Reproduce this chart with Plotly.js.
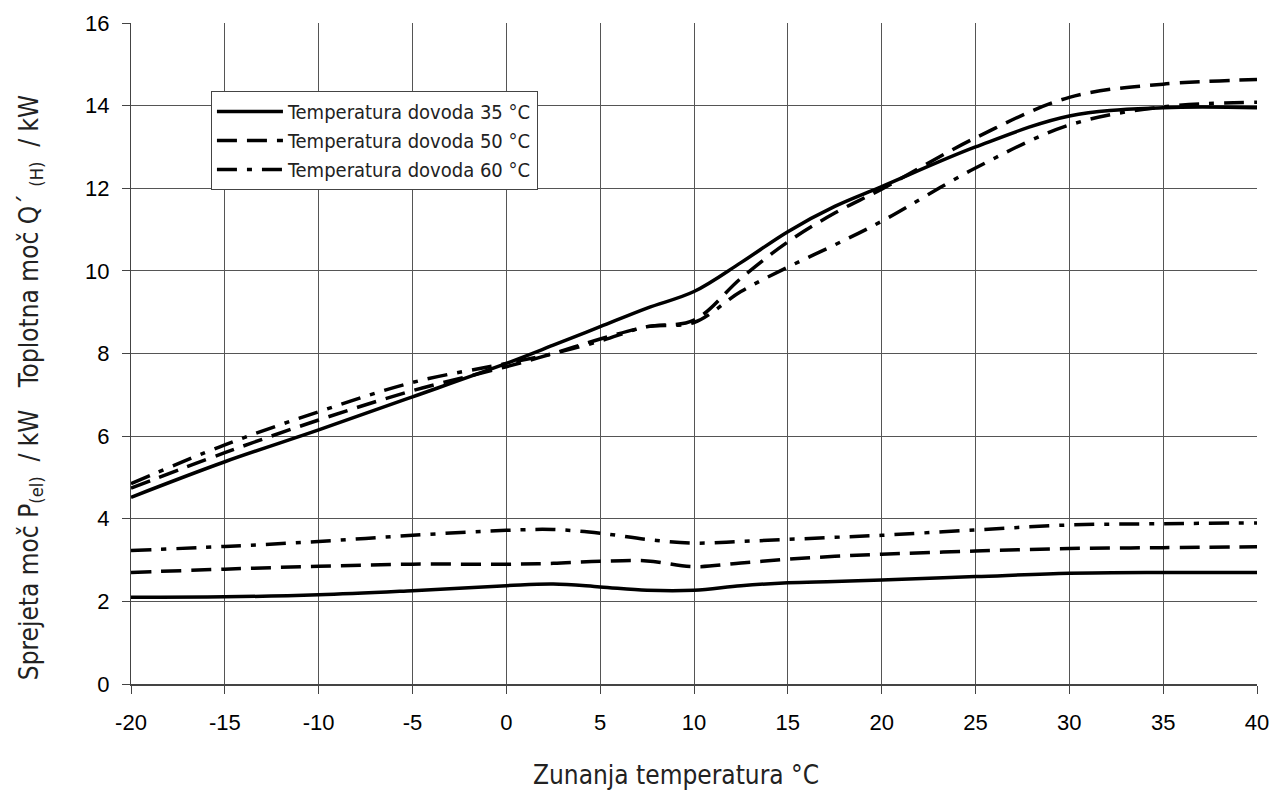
<!DOCTYPE html>
<html>
<head>
<meta charset="utf-8">
<script src="https://cdn.plot.ly/plotly-3.0.1.min.js"></script>
<style>html,body{margin:0;padding:0;background:#fff;}#chart{width:1275px;height:795px;}</style>
</head>
<body>
<div id="chart"></div>
<script>
// Outdoor temperature (°C)
const temps = [-20, -15, -10, -5, 0, 2.5, 5, 7.5, 10, 12.5, 15, 17.5, 20, 25, 30, 35, 40];

// Heating capacity Q(H) / kW
const heat35 = [4.52, 5.38, 6.15, 6.95, 7.76, 8.2, 8.65, 9.1, 9.5, 10.2, 10.95, 11.56, 12.04, 13.0, 13.75, 13.95, 13.95];
const heat50 = [4.74, 5.6, 6.39, 7.1, 7.68, 8.0, 8.35, 8.65, 8.81, 9.82, 10.7, 11.4, 11.98, 13.22, 14.2, 14.52, 14.63];
const heat60 = [4.85, 5.79, 6.59, 7.3, 7.76, 8.0, 8.3, 8.65, 8.75, 9.5, 10.09, 10.63, 11.2, 12.49, 13.53, 13.97, 14.08];

// Electric power P(el) / kW
const pel35 = [2.1, 2.11, 2.16, 2.26, 2.38, 2.42, 2.35, 2.27, 2.27, 2.38, 2.45, 2.48, 2.52, 2.6, 2.68, 2.7, 2.7];
const pel50 = [2.7, 2.78, 2.85, 2.9, 2.9, 2.92, 2.97, 2.98, 2.84, 2.93, 3.02, 3.09, 3.14, 3.22, 3.28, 3.3, 3.32];
const pel60 = [3.23, 3.33, 3.45, 3.6, 3.72, 3.74, 3.65, 3.5, 3.41, 3.45, 3.5, 3.55, 3.6, 3.73, 3.85, 3.88, 3.9];

const seriesNames = ['Temperatura dovoda 35 °C', 'Temperatura dovoda 50 °C', 'Temperatura dovoda 60 °C'];
const xTicks = [-20, -15, -10, -5, 0, 5, 10, 15, 20, 25, 30, 35, 40];
const yTicks = [0, 2, 4, 6, 8, 10, 12, 14, 16];

const dashes = ['solid', '20px,10px', '20px,10px,5px,10px'];
const heatSets = [heat35, heat50, heat60];
const pelSets = [pel35, pel50, pel60];
const LW = 3.5;
const TXT = 'DejaVu Sans Condensed, Liberation Sans Narrow, Open Sans, sans-serif';
const NUM = 'Liberation Sans, Arial, sans-serif';

const traces = [];
for (let i = 0; i < 3; i++) {
  traces.push({
    x: temps, y: heatSets[i], type: 'scatter', mode: 'lines',
    name: seriesNames[i], legendgroup: 'g' + i, showlegend: true,
    line: {color: '#000', width: LW, dash: dashes[i], shape: 'spline', smoothing: 1},
    hoverinfo: 'x+y'
  });
}
for (let i = 0; i < 3; i++) {
  traces.push({
    x: temps, y: pelSets[i], type: 'scatter', mode: 'lines',
    name: seriesNames[i], legendgroup: 'g' + i, showlegend: false,
    line: {color: '#000', width: LW, dash: dashes[i], shape: 'spline', smoothing: 1},
    hoverinfo: 'x+y'
  });
}

const layout = {
  width: 1275, height: 795,
  margin: {l: 131, r: 18, t: 23, b: 111},
  paper_bgcolor: '#fff', plot_bgcolor: '#fff',
  font: {family: NUM, color: '#000', size: 22},
  xaxis: {
    range: [-20, 40], tickvals: xTicks, ticktext: xTicks.map(String),
    showgrid: true, gridcolor: '#555', gridwidth: 1,
    showline: true, linecolor: '#444', linewidth: 2, mirror: false,
    ticks: 'outside', ticklen: 8, tickcolor: '#444', tickwidth: 1,
    ticklabelstandoff: 10, zeroline: false,
    tickfont: {family: NUM, size: 22, color: '#000'}
  },
  yaxis: {
    range: [0, 16], tickvals: yTicks, ticktext: yTicks.map(String),
    showgrid: true, gridcolor: '#555', gridwidth: 1,
    showline: true, linecolor: '#444', linewidth: 1, mirror: false,
    ticks: 'outside', ticklen: 8, tickcolor: '#444', tickwidth: 1,
    ticklabelstandoff: 8, zeroline: false,
    tickfont: {family: NUM, size: 22, color: '#000'}
  },
  showlegend: true,
  legend: {
    x: 0.071, y: 0.897, xanchor: 'left', yanchor: 'top',
    bgcolor: '#fff', bordercolor: '#444', borderwidth: 1,
    font: {family: TXT, size: 20, color: '#222'},
    tracegroupgap: 0, traceorder: 'grouped', itemwidth: 66
  },
  annotations: [
    {
      text: 'Sprejeta moč P<sub>(el)</sub>\u00a0\u00a0/ kW\u00a0\u00a0\u00a0Toplotna moč Q´\u00a0<sub>(H)</sub>\u00a0\u00a0/ kW',
      xref: 'paper', yref: 'paper', x: -0.0897, y: 0.449,
      xanchor: 'center', yanchor: 'middle', textangle: -90, showarrow: false,
      font: {family: TXT, size: 26, color: '#222'}
    },
    {
      text: 'Zunanja temperatura °C',
      xref: 'paper', yref: 'paper', x: 0.484, y: -0.1377,
      xanchor: 'center', yanchor: 'middle', showarrow: false,
      font: {family: TXT, size: 26, color: '#222'}
    }
  ]
};

Plotly.newPlot('chart', traces, layout, {displayModeBar: false, staticPlot: true});
</script>
</body>
</html>
